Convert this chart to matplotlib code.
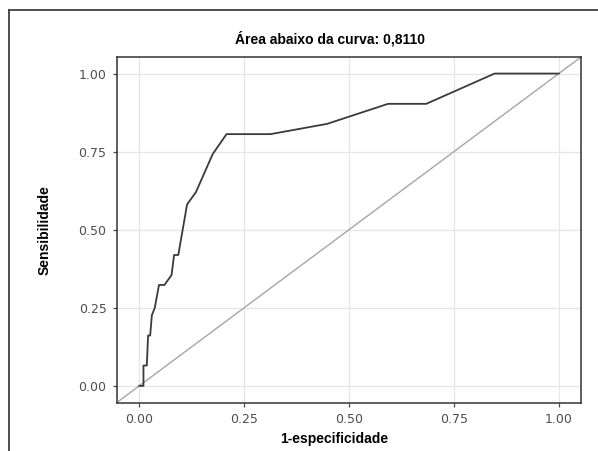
import matplotlib
matplotlib.use("Agg")
import matplotlib.pyplot as plt
from matplotlib.lines import Line2D

plt.rcParams['font.family'] = ['Liberation Sans', 'DejaVu Sans']

# ROC curve points (1-especificidade, sensibilidade)
fpr = [0.0, 0.010, 0.010, 0.018, 0.021, 0.026, 0.030, 0.037, 0.047, 0.060,
       0.077, 0.083, 0.093, 0.114, 0.135, 0.175, 0.208, 0.313, 0.448, 0.593,
       0.684, 0.847, 1.0]
tpr = [0.0, 0.0, 0.065, 0.065, 0.161, 0.161, 0.226, 0.250, 0.323, 0.323,
       0.355, 0.419, 0.419, 0.581, 0.620, 0.742, 0.806, 0.806, 0.839, 0.903,
       0.903, 1.0, 1.0]
ticks = [0.0, 0.25, 0.5, 0.75, 1.0]
tick_labels = ['0.00', '0.25', '0.50', '0.75', '1.00']
auc_text = 'Área abaixo da curva: 0,8110'

fig = plt.figure(figsize=(5.98, 4.51), dpi=100)
ax = fig.add_axes([0.1957, 0.1071, 0.7759, 0.7672])

ax.axline((0, 0), slope=1, color='#a6a6a6', lw=1.0, zorder=2)
ax.plot(fpr, tpr, color='#3a3a3a', lw=1.3, zorder=3)

ax.set_xlim(-0.053, 1.053)
ax.set_ylim(-0.054, 1.054)
ax.set_xticks(ticks)
ax.set_xticklabels(tick_labels, family='DejaVu Sans')
ax.set_yticks(ticks)
ax.set_yticklabels(tick_labels, family='DejaVu Sans')
ax.grid(True, color='#e6e6e6', lw=0.9, zorder=0)
ax.set_axisbelow(True)
ax.tick_params(colors='#4d4d4d', labelsize=9, length=3, width=0.9, pad=4.5)
for s in ax.spines.values():
    s.set_color('#333333')
    s.set_linewidth(1.1)

fig.text(330 / 598, 1 - 39 / 451, auc_text, ha='center', va='center',
         fontsize=10, fontweight='bold')
fig.text(334 / 598, 1 - 439 / 451, '1-especificidade', ha='center', va='center',
         fontsize=10, fontweight='bold')
fig.text(45 / 598, 1 - 230 / 451, 'Sensibilidade', ha='center', va='center',
         rotation=90, fontsize=10, fontweight='bold')

# outer frame of the figure panel
fig.add_artist(Line2D([9 / 598, 9 / 598], [0, 1 - 10 / 451],
                      transform=fig.transFigure, color='#404040', lw=1.3))
fig.add_artist(Line2D([9 / 598, 1], [1 - 10 / 451, 1 - 10 / 451],
                      transform=fig.transFigure, color='#404040', lw=1.3))

fig.savefig('out.png', dpi=100)
